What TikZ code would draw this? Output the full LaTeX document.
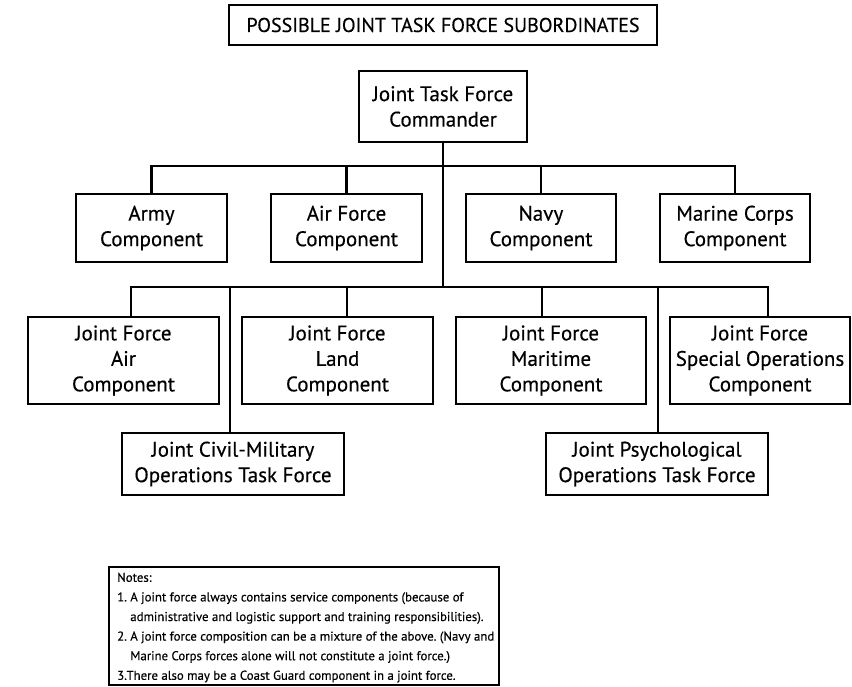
\documentclass[tikz,border=0pt]{standalone}
\usepackage{fontspec}
\setmainfont[FakeBold=0.4]{PT Sans}
\frenchspacing
\begin{document}
\begin{tikzpicture}[x=1pt,y=-1pt,
  box/.style={draw, line width=2.6pt, align=center, inner sep=0pt, font=\fontsize{21}{25.5}\selectfont},
  wire/.style={line width=2.6pt},
  notetext/.style={anchor=north west, inner sep=0pt, align=left, font=\fontsize{12.8}{19.6}\selectfont}
]
\useasboundingbox (0,0) rectangle (852,687);
% title and commander
\node[box, minimum width=428pt, minimum height=40pt, font=\fontsize{20}{24}\selectfont] (title) at (443,25) {POSSIBLE JOINT TASK FORCE SUBORDINATES};
\node[box, minimum width=168pt, minimum height=71pt] (cmdr) at (443,106.5) {Joint Task Force\\Commander};
% service components
\node[box, minimum width=151pt, minimum height=68pt] (army) at (151.5,228) {Army\\Component};
\node[box, minimum width=151pt, minimum height=68pt] (airf) at (346.5,228) {Air Force\\Component};
\node[box, minimum width=150pt, minimum height=68pt] (navy) at (541,228) {Navy\\Component};
\node[box, minimum width=150pt, minimum height=68pt] (marine) at (735,228) {Marine Corps\\Component};
% functional components
\node[box, minimum width=191pt, minimum height=87pt] (jfair) at (123.5,360.5) {Joint Force\\Air\\Component};
\node[box, minimum width=191pt, minimum height=87pt] (jfland) at (337.5,360.5) {Joint Force\\Land\\Component};
\node[box, minimum width=190pt, minimum height=87pt] (jfmar) at (551,360.5) {Joint Force\\Maritime\\Component};
\node[box, minimum width=180pt, minimum height=87pt] (jfso) at (760,360.5) {Joint Force\\Special Operations\\Component};
\node[box, minimum width=222pt, minimum height=62pt] (civil) at (233,464) {Joint Civil-Military\\Operations Task Force};
\node[box, minimum width=222pt, minimum height=62pt] (psych) at (657,464) {Joint Psychological\\Operations Task Force};
% connectors
\coordinate (ub) at (443,166);
\coordinate (lb) at (443,287);
\coordinate (cA) at (131,287);
\coordinate (cL) at (347,287);
\coordinate (cC) at (230,287);
\coordinate (cM) at (542,287);
\coordinate (cP) at (658,287);
\coordinate (cS) at (768,287);
\draw[wire] (cmdr.south) -- (lb);
\draw[wire] (army.north) |- (ub) -| (marine.north);
\draw[wire] (airf.north) -- (airf.north |- ub);
\draw[wire] (navy.north) -- (navy.north |- ub);
\draw[wire] (cA |- jfair.north) -- (cA) -- (cS) -- (cS |- jfso.north);
\draw[wire] (cL) -- (cL |- jfland.north);
\draw[wire] (cM) -- (cM |- jfmar.north);
\draw[wire] (cC) -- (cC |- civil.north);
\draw[wire] (cP) -- (cP |- psych.north);
% notes
\node[draw, line width=2.2pt, minimum width=390pt, minimum height=118pt, anchor=north west, inner sep=0pt] (notes) at (108,566) {};
\node[notetext] (notestext) at (117,572.5) {Notes:\\
1. A joint force always contains service components (because of\\
\hphantom{1. }administrative and logistic support and training responsibilities).\\
2. A joint force composition can be a mixture of the above. (Navy and\\
\hphantom{2. }Marine Corps forces alone will not constitute a joint force.)\\
3.There also may be a Coast Guard component in a joint force.};
\end{tikzpicture}
\end{document}
